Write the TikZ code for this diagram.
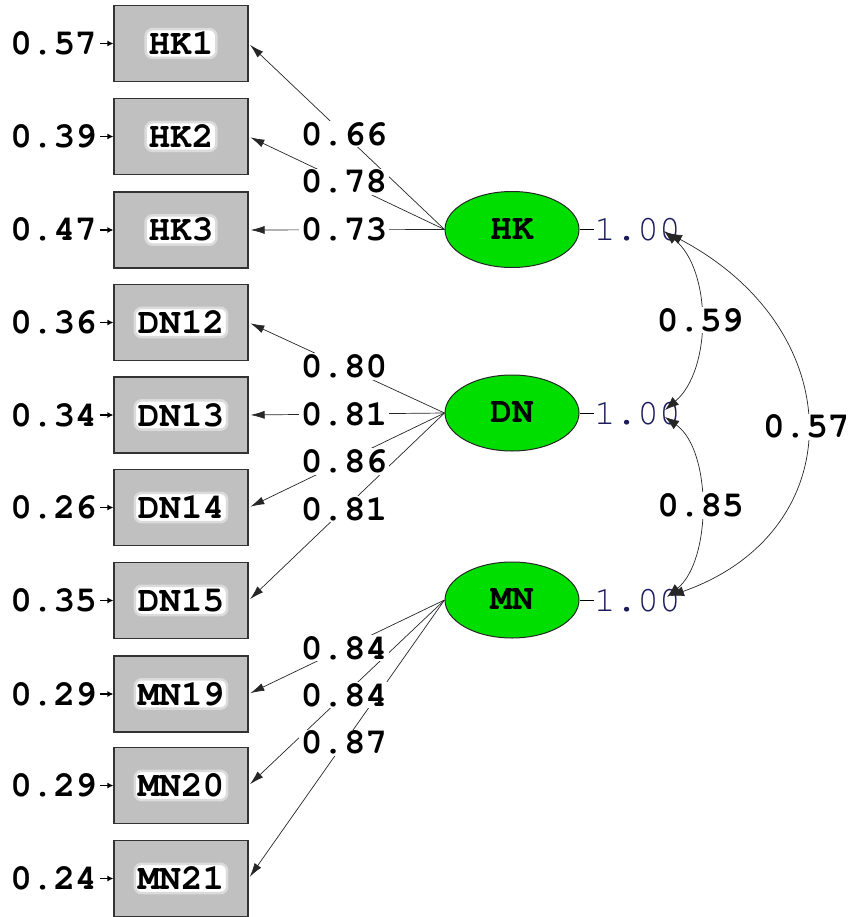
\documentclass[tikz,border=0pt]{standalone}
\usepackage{fontspec}
\setmainfont{Liberation Mono}
\usetikzlibrary{arrows.meta,shapes.geometric}
\definecolor{obsgray}{RGB}{192,192,192}
\definecolor{latgreen}{RGB}{0,222,0}
\definecolor{varnavy}{RGB}{28,28,92}
\newcommand{\crbold}{\usefont{T1}{pcr}{b}{n}\fontsize{36}{39}\selectfont}
\newcommand{\crreg}{\usefont{T1}{pcr}{m}{n}\fontsize{36}{39}\selectfont}
\begin{document}
\begin{tikzpicture}[x=1pt,y=-1pt,
  bigbold/.style={font=\crbold},
  obs/.style={draw=black!80, line width=1.2pt, fill=obsgray, minimum width=134pt, minimum height=76pt, inner sep=0pt},
  halo/.style={fill=white, draw=white!86!black, line width=2.5pt, rounded corners=7pt, inner sep=3pt, bigbold},
  lat/.style={ellipse, draw=black!85, line width=1pt, fill=latgreen, minimum width=134pt, minimum height=76pt, inner sep=0pt, bigbold},
  load/.style={draw=black!85, line width=0.7pt, -{Latex[length=14pt,width=8pt]}, shorten >=2pt},
  lab/.style={fill=white, inner sep=1.5pt, bigbold, pos=0.513},
  clab/.style={fill=white, inner sep=1.5pt, bigbold, pos=0.5},
  errlab/.style={bigbold, anchor=east, inner sep=0pt},
  errarr/.style={line width=1.2pt, -{Latex[length=6pt,width=6pt]}},
  varlab/.style={font=\crreg, text=varnavy, anchor=west, inner sep=0pt},
  cov/.style={draw=black!85, line width=0.7pt, {Latex[length=14pt,width=10pt]}-{Latex[length=14pt,width=10pt]}}
]
\useasboundingbox (0,0) rectangle (853,917);

% observed variables
\node[obs, label={[halo]center:HK1}] (hk1) at (181,43.5) {};
\node[obs, label={[halo]center:HK2}] (hk2) at (181,136.5) {};
\node[obs, label={[halo]center:HK3}] (hk3) at (181,230) {};
\node[obs, label={[halo]center:DN12}] (dn12) at (181,322.5) {};
\node[obs, label={[halo]center:DN13}] (dn13) at (181,415) {};
\node[obs, label={[halo]center:DN14}] (dn14) at (181,507.5) {};
\node[obs, label={[halo]center:DN15}] (dn15) at (181,600.5) {};
\node[obs, label={[halo]center:MN19}] (mn19) at (181,694) {};
\node[obs, label={[halo]center:MN20}] (mn20) at (181,785.5) {};
\node[obs, label={[halo]center:MN21}] (mn21) at (181,878.5) {};

% error variances
\node[errlab] (e1) at (97,43.5) {0.57};
\node[errlab] (e2) at (97,136.5) {0.39};
\node[errlab] (e3) at (97,230) {0.47};
\node[errlab] (e4) at (97,322.5) {0.36};
\node[errlab] (e5) at (97,415) {0.34};
\node[errlab] (e6) at (97,507.5) {0.26};
\node[errlab] (e7) at (97,600.5) {0.35};
\node[errlab] (e8) at (97,694) {0.29};
\node[errlab] (e9) at (97,785.5) {0.29};
\node[errlab] (e10) at (97,878.5) {0.24};
\draw[errarr] ([xshift=3pt]e1.east) -- (hk1.west);
\draw[errarr] ([xshift=3pt]e2.east) -- (hk2.west);
\draw[errarr] ([xshift=3pt]e3.east) -- (hk3.west);
\draw[errarr] ([xshift=3pt]e4.east) -- (dn12.west);
\draw[errarr] ([xshift=3pt]e5.east) -- (dn13.west);
\draw[errarr] ([xshift=3pt]e6.east) -- (dn14.west);
\draw[errarr] ([xshift=3pt]e7.east) -- (dn15.west);
\draw[errarr] ([xshift=3pt]e8.east) -- (mn19.west);
\draw[errarr] ([xshift=3pt]e9.east) -- (mn20.west);
\draw[errarr] ([xshift=3pt]e10.east) -- (mn21.west);

% latent variables
\node[lat] (hk) at (512,229.5) {HK};
\node[lat] (dn) at (512,413) {DN};
\node[lat] (mn) at (512,600) {MN};

% loadings
\draw[load] (hk.west) -- (hk1.east);
\draw[load] (hk.west) -- (hk2.east);
\draw[load] (hk.west) -- (hk3.east);
\draw[load] (dn.west) -- (dn12.east);
\draw[load] (dn.west) -- (dn13.east);
\draw[load] (dn.west) -- (dn14.east);
\draw[load] (dn.west) -- (dn15.east);
\draw[load] (mn.west) -- (mn19.east);
\draw[load] (mn.west) -- (mn20.east);
\draw[load] (mn.west) -- (mn21.east);
\path (hk.west) -- node[lab] {0.66} (hk1.east);
\path (hk.west) -- node[lab] {0.78} (hk2.east);
\path (hk.west) -- node[lab] {0.73} (hk3.east);
\path (dn.west) -- node[lab] {0.80} (dn12.east);
\path (dn.west) -- node[lab] {0.81} (dn13.east);
\path (dn.west) -- node[lab] {0.86} (dn14.east);
\path (dn.west) -- node[lab] {0.81} (dn15.east);
\path (mn.west) -- node[lab] {0.84} (mn19.east);
\path (mn.west) -- node[lab] {0.84} (mn20.east);
\path (mn.west) -- node[lab] {0.87} (mn21.east);

% latent variances
\node[varlab] (v1) at (594,229.5) {1.00};
\node[varlab] (v2) at (594,413) {1.00};
\node[varlab] (v3) at (594,600) {1.00};
\draw[line width=0.7pt] (hk.east) -- (v1.west);
\draw[line width=0.7pt] (dn.east) -- (v2.west);
\draw[line width=0.7pt] (mn.east) -- (v3.west);

% covariances
\coordinate (t1a) at (664,231);
\coordinate (t1b) at (668,233);
\coordinate (t2a) at (665,410);
\coordinate (t2b) at (665,417);
\coordinate (t3a) at (667,597);
\coordinate (t3b) at (670,596);
\draw[cov] (t1a) .. controls (712,270) and (712,370) .. node[clab] {0.59} (t2a);
\draw[cov] (t2b) .. controls (712,450) and (712,560) .. node[clab] {0.85} (t3a);
\draw[cov] (t1b) .. controls (852,330) and (852,532) .. node[clab] {0.57} (t3b);
\end{tikzpicture}
\end{document}
